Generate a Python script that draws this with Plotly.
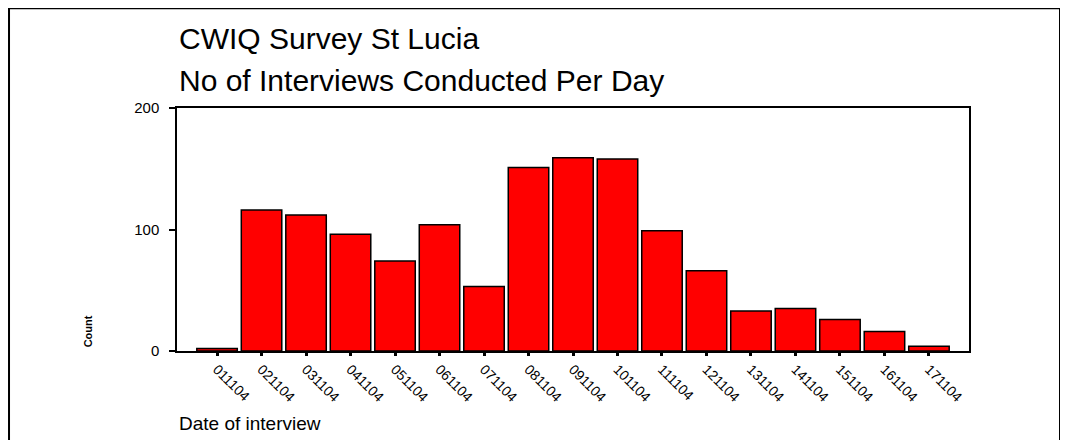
# interviews per day bar chart, CWIQ survey St Lucia
import plotly.graph_objects as go

# interview dates (ddmmyy) and count of interviews on each day
dates = ['011104', '021104', '031104', '041104', '051104', '061104', '071104', '081104', '091104',
         '101104', '111104', '121104', '131104', '141104', '151104', '161104', '171104']
counts = [2, 116, 112, 96, 74, 104, 53, 151, 159, 158, 99, 66, 33, 35, 26, 16, 4]
y_ticks = [0, 100, 200]

font = 'Liberation Sans, Arial, sans-serif'

fig = go.Figure()
fig.add_trace(go.Bar(x=dates, y=counts, marker=dict(color='#ff0000', line=dict(color='black', width=1.5))))

# page body adds 8px, margins are set so the plot box sits where it should
fig.update_layout(
    width=1068, height=440,
    margin=dict(l=169, r=107, t=100, b=97),
    paper_bgcolor='white', plot_bgcolor='white',
    showlegend=False, bargap=0.09,
    font=dict(family=font, color='black'),
    xaxis=dict(
        type='category', range=[-0.9, 16.9],
        showline=True, linecolor='black', linewidth=1.5, mirror=True,
        ticks='outside', ticklen=3, tickwidth=3, tickcolor='black',
        tickangle=45, tickfont=dict(size=14), showgrid=False
    ),
    yaxis=dict(
        range=[0, 200], tickvals=y_ticks,
        showline=True, linecolor='black', linewidth=1.5, mirror=True,
        ticks='outside', ticklen=6, tickwidth=2, tickcolor='black',
        tickfont=dict(size=15), ticklabelstandoff=7, showgrid=False, zeroline=False
    ),
)

# titles and axis labels
fig.add_annotation(text='CWIQ Survey St Lucia', xref='paper', yref='paper', x=0, y=1.288,
                   xanchor='left', yanchor='middle', showarrow=False, font=dict(size=30))
fig.add_annotation(text='No of Interviews Conducted Per Day', xref='paper', yref='paper', x=0, y=1.115,
                   xanchor='left', yanchor='middle', showarrow=False, font=dict(size=30))
fig.add_annotation(text='Date of interview', xref='paper', yref='paper', x=0, y=-0.30,
                   xanchor='left', yanchor='middle', showarrow=False, font=dict(size=19))
fig.add_annotation(text='<b>Count</b>', xref='paper', yref='paper', x=-0.112, y=0.082,
                   xanchor='center', yanchor='middle', showarrow=False, textangle=-90, font=dict(size=11))

# outer frame round the whole chart
fig.add_shape(type='rect', xref='paper', yref='paper', x0=-0.2121, x1=1.1149, y0=-0.45, y1=1.41,
              line=dict(color='black', width=2), layer='above')

fig.write_html("out.html")
